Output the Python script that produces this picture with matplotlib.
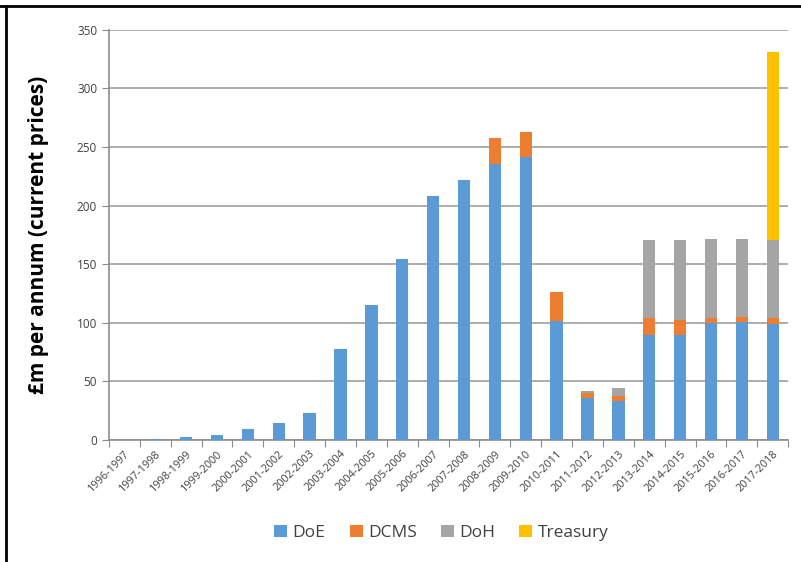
import numpy as np
import matplotlib.pyplot as plt
from matplotlib.lines import Line2D

years = ['1996-1997', '1997-1998', '1998-1999', '1999-2000', '2000-2001',
         '2001-2002', '2002-2003', '2003-2004', '2004-2005', '2005-2006',
         '2006-2007', '2007-2008', '2008-2009', '2009-2010', '2010-2011',
         '2011-2012', '2012-2013', '2013-2014', '2014-2015', '2015-2016',
         '2016-2017', '2017-2018']

doe = [0, 1.1, 2.8, 4.6, 9.1, 14.5, 23.3, 78, 115.5, 154.8, 208, 221.7,
       235.3, 241.6, 101.9, 36.1, 33.3, 89.6, 89.6, 100.2, 101, 99]
dcms = [0, 0, 0, 0, 0, 0, 0, 0, 0, 0, 0, 0,
        22.2, 21, 24.1, 4.3, 4.5, 14.3, 12.8, 3.7, 4.3, 4.9]
doh = [0, 0, 0, 0, 0, 0, 0, 0, 0, 0, 0, 0,
       0, 0, 0, 1.7, 6.3, 66.8, 68.3, 67.7, 66.3, 66.8]
treasury = [0] * 21 + [160]

series = [('DoE', doe, '#5B9BD5'), ('DCMS', dcms, '#ED7D31'),
          ('DoH', doh, '#A5A5A5'), ('Treasury', treasury, '#FFC000')]

plt.rcParams['font.family'] = ['Open Sans', 'DejaVu Sans']

fig = plt.figure(figsize=(8.01, 5.62), dpi=100)
ax = fig.add_axes([0.136, 0.217, 0.848, 0.73])

x = np.arange(len(years))
bottom = np.zeros(len(years))
for name, vals, color in series:
    vals = np.array(vals, dtype=float)
    ax.bar(x, vals, width=0.4, bottom=bottom, color=color, label=name, zorder=3)
    bottom += vals

ax.set_xlim(-0.5, len(years) - 0.5)
ax.set_ylim(0, 350)
ax.set_yticks(range(0, 351, 50))
ax.grid(axis='y', color='#a6a6a6', linewidth=1.3, zorder=0)

# category boundaries get the x tick marks
ax.set_xticks(np.arange(-0.5, len(years), 1))
ax.set_xticklabels([])
ax.set_xticks(x, minor=True)
ax.set_xticklabels(years, minor=True, rotation=45, ha='right',
                   rotation_mode='anchor', fontsize=7.8, color='#404040')
ax.tick_params(axis='x', which='major', length=5, color='#8c8c8c', direction='out')
ax.tick_params(axis='x', which='minor', length=0, pad=6)
ax.tick_params(axis='y', length=5, color='#8c8c8c', labelsize=8.5, labelcolor='#404040')

for s in ['top', 'right']:
    ax.spines[s].set_visible(False)
for s in ['left', 'bottom']:
    ax.spines[s].set_color('#8c8c8c')
    ax.spines[s].set_linewidth(1.2)

ax.set_ylabel('£m per annum (current prices)', fontsize=15, fontweight='bold',
              color='black', labelpad=20)

fig.legend(loc='center', bbox_to_anchor=(0.551, 0.052), ncol=4, frameon=False,
           fontsize=12.5, handlelength=0.75, handleheight=0.75, handletextpad=0.3,
           columnspacing=1.4, labelcolor='#404040')

# black frame lines at top and left, as in the original screenshot
fig.add_artist(Line2D([0, 1], [1 - 6 / 562, 1 - 6 / 562], color='black',
                      linewidth=2, transform=fig.transFigure))
fig.add_artist(Line2D([6 / 801, 6 / 801], [0, 1 - 6 / 562], color='black',
                      linewidth=2, transform=fig.transFigure))

fig.savefig('out.png', dpi=100)
